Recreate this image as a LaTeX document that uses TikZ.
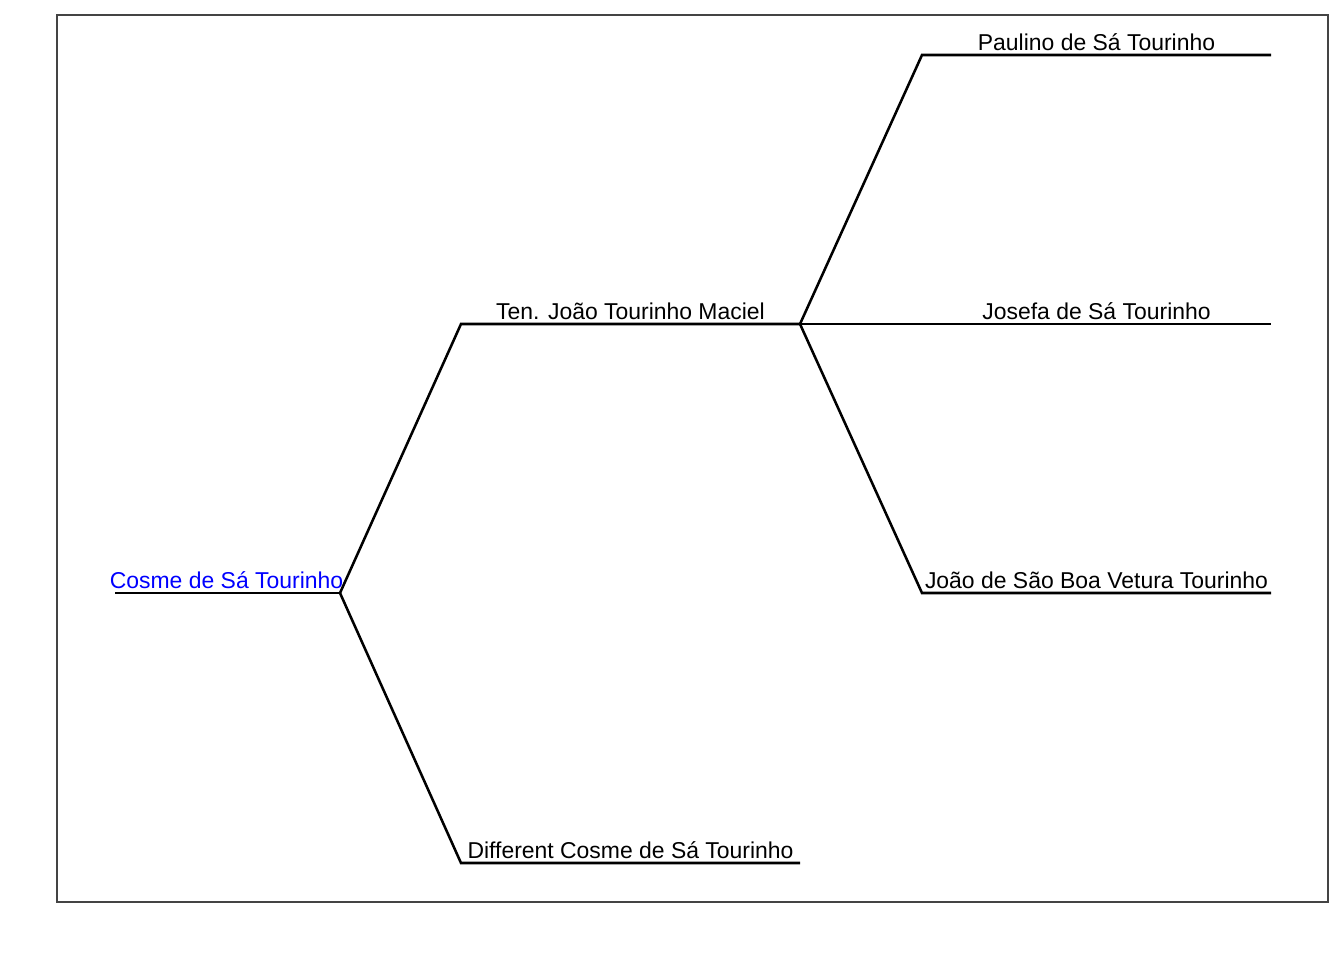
\documentclass[tikz,border=0pt]{standalone}
\usepackage{fontspec}
\setmainfont{Liberation Sans}
\usetikzlibrary{positioning, calc}
\definecolor{FrameGray}{RGB}{68, 68, 68}
\definecolor{LinkBlue}{RGB}{0, 0, 255}

\begin{document}
\begin{tikzpicture}[
        x=0.75pt, y=-0.75pt,
        branch/.style={line width=1.9pt, black, line join=miter},
        person/.style={anchor=base, inner sep=0pt, font=\fontsize{17.2}{20}\selectfont},
        frame/.style={draw=FrameGray, line width=0.8pt}
    ]
        \useasboundingbox (0,0) rectangle (1344,960);
        \draw[frame] (57,15) rectangle (1328,902);

        % Joints
        \coordinate (c0) at (115,593);
        \coordinate (c1) at (340,593);
        \coordinate (t0) at (461,324);
        \coordinate (t1) at (800,324);
        \coordinate (d0) at (461,863);
        \coordinate (d1) at (800,863);
        \coordinate (p0) at (922,55);
        \coordinate (p1) at (1271,55);
        \coordinate (j0) at (922,324);
        \coordinate (j1) at (1271,324);
        \coordinate (b0) at (922,593);
        \coordinate (b1) at (1271,593);

        % Names
        \node[person, text=LinkBlue] (cosme) at ($(c0)!0.5!(c1)+(-1,-5)$) {Cosme de Sá Tourinho};
        \node[person] (ten) at ($(t0)!0.5!(t1)+(0,-5)$) {Ten. João Tourinho Maciel};
        \node[person] (diff) at ($(d0)!0.5!(d1)+(0,-5)$) {Different Cosme de Sá Tourinho };
        \node[person] (paulino) at ($(p0)!0.5!(p1)+(0,-5)$) {Paulino de Sá Tourinho};
        \node[person] (josefa) at ($(j0)!0.5!(j1)+(0,-5)$) {Josefa de Sá Tourinho};
        \node[person] (boa) at ($(b0)!0.5!(b1)+(0,-5)$) {João de São Boa Vetura Tourinho};

        % Branches
        \draw[branch] (c0) -- (c1);
        \draw[branch] (c1) -- (t0) -- (t1);
        \draw[branch] (c1) -- (d0) -- (d1);
        \draw[branch] (t1) -- (p0) -- (p1);
        \draw[branch] (t1) -- (j0) -- (j1);
        \draw[branch] (t1) -- (b0) -- (b1);

    \end{tikzpicture}
\end{document}
